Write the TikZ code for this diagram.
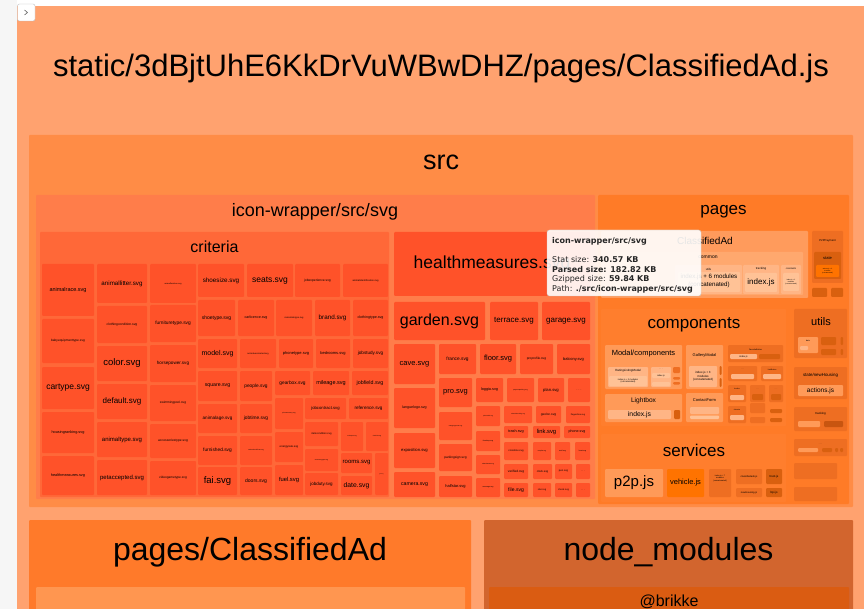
\documentclass[tikz,border=0pt]{standalone}
\usepackage{fontspec}
\setmainfont{Liberation Sans}
\newfontfamily\ttipfont{DejaVu Sans}
\definecolor{side}{HTML}{F6F6F6}
\definecolor{root}{HTML}{FFA26F}
\definecolor{srcc}{HTML}{FF8C46}
\definecolor{iw}{HTML}{FF7D4A}
\definecolor{crit}{HTML}{FF6838}
\definecolor{leaf}{HTML}{FF5229}
\definecolor{pg}{HTML}{FF7B27}
\definecolor{cad}{HTML}{FF9B5C}
\definecolor{com}{HTML}{FFA86E}
\definecolor{lt}{HTML}{FFB585}
\definecolor{ltt}{HTML}{FFC296}
\definecolor{comp}{HTML}{FF7E2D}
\definecolor{mid}{HTML}{FF9A58}
\definecolor{dk}{HTML}{D9600F}
\definecolor{dkk}{HTML}{C85510}
\definecolor{med}{HTML}{EE6E22}
\definecolor{bot}{HTML}{FF7A2A}
\definecolor{botin}{HTML}{FF9650}
\definecolor{nm}{HTML}{D2652E}
\definecolor{br}{HTML}{DA5C12}
\definecolor{veh}{HTML}{FF7300}
\newcommand\tmB[5]{\fill[#1,rounded corners=1pt] (#2,#3) rectangle (#4,#5);}
\newcommand\tmT[4]{\node[lab,font={\fontsize{#3}{#3}\selectfont}] at ({#1},{#2}) {#4};}
\newcommand\tmM[5]{\node[lab,font={\fontsize{#3}{#4}\selectfont}] at ({#1},{#2}) {#5};}
\newcommand\tmL[6]{\tmB{leaf}{#1}{#2}{#3}{#4}\tmT{(#1+#3)/2}{(#2+#4)/2}{#5}{#6}}
\newcommand\tmX[7]{\tmB{#1}{#2}{#3}{#4}{#5}\tmT{(#2+#4)/2}{(#3+#5)/2}{#6}{#7}}
\begin{document}
\begin{tikzpicture}[x=1pt,y=-1pt,lab/.style={inner sep=0pt,text=black,align=center}]
\useasboundingbox (0,0) rectangle (864,609);
\fill[white] (0,0) rectangle (864,609);
\fill[side] (0,0) rectangle (17,609);
\fill[root] (17,6) rectangle (864,609);
% toggle button
\draw[fill=white,draw=black!25,rounded corners=2pt] (17.5,4) rectangle (35,21);
\draw[black!60,line width=0.6pt] (24.5,10) -- (27.5,12.5) -- (24.5,15);
% title
\tmT{441}{68}{31}{static/3dBjtUhE6KkDrVuWBwDHZ/pages/ClassifiedAd.js}
% src
\tmB{srcc}{29}{135}{853}{507}
\tmT{441}{162}{27}{src}
% icon-wrapper
\tmB{iw}{36}{195}{595}{499}
\tmT{315}{212}{18}{icon-wrapper/src/svg}
% criteria
\tmB{crit}{40}{232}{389}{497}
\tmT{214.5}{247}{16}{criteria}
\tmL{42}{264}{94}{316}{5.5}{animalrace.svg}
\tmL{42}{319}{94}{363}{3.2}{babyequipmenttype.svg}
\tmL{42}{367}{94}{409}{8.5}{cartype.svg}
\tmL{42}{412}{94}{453}{3.8}{housingranking.svg}
\tmL{42}{456}{94}{495}{3.8}{healthmeasures.svg}
\tmL{97}{264}{147}{303}{6.2}{animallitter.svg}
\tmL{97}{306}{147}{343}{3.3}{clothingcondition.svg}
\tmL{97}{346}{147}{381}{9.5}{color.svg}
\tmL{97}{384}{147}{419}{8}{default.svg}
\tmL{97}{422}{147}{457}{6}{animaltype.svg}
\tmL{97}{460}{147}{495}{6}{petaccepted.svg}
\tmL{150}{264}{196}{303}{2}{animalfurniture.svg}
\tmL{150}{305}{196}{342}{4.8}{furnituretype.svg}
\tmL{150}{345}{196}{382}{4.6}{horsepower.svg}
\tmL{150}{385}{196}{421}{3.2}{swimmingpool.svg}
\tmL{150}{424}{196}{458}{3.3}{accessoriestype.svg}
\tmL{150}{461}{196}{495}{3.2}{videogametype.svg}
\tmL{198}{264}{244}{297}{6.3}{shoesize.svg}
\tmL{247}{264}{293}{297}{8.5}{seats.svg}
\tmL{295}{264}{340}{297}{3.3}{jobexperience.svg}
\tmL{343}{264}{388}{297}{2.5}{animalidentification.svg}
\tmL{198}{300}{235}{336}{5}{shoetype.svg}
\tmL{238}{300}{274}{336}{3.6}{carlicence.svg}
\tmL{276}{300}{312}{336}{2.3}{realestatetype.svg}
\tmL{315}{300}{350}{336}{6.3}{brand.svg}
\tmL{353}{300}{388}{336}{3.6}{clothingtype.svg}
\tmL{198}{339}{237}{368}{7}{model.svg}
\tmL{240}{339}{276}{368}{2.2}{animalvaccinated.svg}
\tmL{279}{339}{313}{368}{4}{phonetype.svg}
\tmL{316}{339}{350}{368}{4}{bedrooms.svg}
\tmL{353}{339}{388}{368}{4.6}{jobstudy.svg}
\tmL{198}{371}{237}{401}{5.2}{square.svg}
\tmL{198}{404}{237}{433}{4.6}{animalage.svg}
\tmL{198}{436}{237}{465}{4.8}{furnished.svg}
\tmL{198}{467}{237}{495}{9.5}{fai.svg}
\tmL{240}{371}{272}{401}{4.8}{people.svg}
\tmL{240}{404}{272}{433}{4.8}{jobtime.svg}
\tmL{240}{436}{272}{465}{1.6}{nationalcertificate.svg}
\tmL{240}{467}{272}{495}{5}{doors.svg}
\tmL{275}{371}{310}{395}{4.8}{gearbox.svg}
\tmL{313}{371}{349}{395}{5.5}{mileage.svg}
\tmL{352}{371}{388}{395}{5.3}{jobfield.svg}
\tmL{275}{398}{303}{429}{1.6}{phonememory.svg}
\tmL{275}{432}{303}{462}{2.8}{energyrate.svg}
\tmL{275}{465}{303}{495}{5.8}{fuel.svg}
\tmL{305}{398}{346}{419}{4.2}{jobcontract.svg}
\tmL{349}{398}{388}{419}{4.6}{reference.svg}
\tmL{305}{422}{338}{446}{2.6}{itemcondition.svg}
\tmL{341}{422}{363}{451}{1.5}{nohotpets.svg}
\tmL{366}{422}{388}{451}{1.5}{checklist.svg}
\tmL{305}{449}{338}{471}{1.6}{accessorytype.svg}
\tmL{305}{473}{338}{495}{4.5}{jobduty.svg}
\tmL{341}{453}{372}{473}{6}{rooms.svg}
\tmL{341}{476}{372}{495}{6.8}{date.svg}
\tmL{375}{453}{388}{495}{1.2}{gas.svg}
% middle column
\tmL{394}{232}{590}{296}{17.5}{healthmeasures.svg}
\tmL{394}{302}{485}{340}{16}{garden.svg}
\tmL{490}{302}{538}{340}{8}{terrace.svg}
\tmL{542}{302}{590}{340}{8}{garage.svg}
\tmL{394}{344}{435}{384}{7.5}{cave.svg}
\tmL{394}{388}{435}{428}{3.6}{languelogo.svg}
\tmL{394}{433}{435}{468}{4.2}{exposition.svg}
\tmL{394}{472}{435}{497}{5.2}{camera.svg}
\tmL{439}{344}{476}{374}{4.8}{france.svg}
\tmL{480}{344}{516}{374}{7.5}{floor.svg}
\tmL{520}{344}{553}{374}{3.2}{proprofile.svg}
\tmL{557}{344}{590}{374}{4}{balcony.svg}
\tmL{439}{378}{472}{407}{7.5}{pro.svg}
\tmL{439}{412}{472}{440}{1.6}{categorysports.svg}
\tmL{439}{444}{472}{471}{3.2}{parkingsign.svg}
\tmL{439}{476}{472}{497}{4}{halfstar.svg}
\tmL{476}{378}{503}{402}{3.8}{loggia.svg}
\tmL{507}{378}{534}{402}{1.6}{paymentparking.svg}
\tmL{538}{378}{564}{402}{4.2}{plan.svg}
\tmL{568}{378}{590}{402}{3}{. . .}
\tmL{476}{406}{500}{426}{1.5}{phonesold.svg}
\tmL{476}{431}{500}{451}{1.8}{thumbup.svg}
\tmL{476}{455}{500}{474}{1.6}{calendarnew.svg}
\tmL{476}{478}{500}{497}{1.8}{message.svg}
\tmL{504}{406}{532}{423}{1.5}{calendarbooking.svg}
\tmL{536}{406}{561}{423}{3.2}{geoloc.svg}
\tmL{566}{406}{590}{423}{2.2}{flagoutline.svg}
\tmL{504}{426}{528}{438}{3.8}{trash.svg}
\tmL{533}{426}{560}{438}{5.8}{link.svg}
\tmL{564}{426}{590}{438}{3.6}{phone.svg}
\tmL{504}{442}{528}{460}{2.6}{crossline.svg}
\tmL{533}{442}{551}{460}{1.6}{mapfav.svg}
\tmL{555}{442}{570}{460}{1.8}{mail.svg}
\tmL{575}{442}{590}{460}{1.8}{heart.svg}
\tmL{504}{464}{528}{479}{3.2}{verified.svg}
\tmL{533}{464}{552}{479}{2.8}{clock.svg}
\tmL{555}{464}{572}{479}{2.6}{pen.svg}
\tmL{576}{464}{590}{479}{2.6}{. . .}
\tmL{504}{483}{528}{497}{5}{file.svg}
\tmL{533}{483}{551}{497}{2.4}{star.svg}
\tmL{555}{483}{572}{497}{2.4}{check.svg}
\tmL{576}{483}{590}{497}{2.6}{. . .}
% pages
\tmB{pg}{598}{195}{849}{504}
\tmT{723.5}{212}{17}{pages}
\tmB{cad}{601}{231}{808}{298}
\tmT{705}{241}{10}{ClassifiedAd}
\tmB{com}{613}{252}{803}{295}
\tmT{708}{257.5}{5}{common}
\tmB{lt}{675}{265}{742}{294}
\tmT{708.5}{269}{3}{utils}
\tmB{ltt}{678}{272}{740}{292}
\tmM{709}{281}{6.2}{8}{index.js + 6 modules\\(concatenated)}
\tmB{lt}{743}{265}{779}{294}
\tmT{761}{269}{3}{tracking}
\tmX{ltt}{745}{273}{777}{292}{8}{index.js}
\tmB{lt}{781}{265}{801}{294}
\tmT{791}{269}{2.4}{constants}
\tmB{ltt}{783}{273}{799}{291}
\tmM{791}{282}{1.7}{2.2}{index.js + 1\\modules\\(concatenated)}
\tmB{med}{812}{231}{843}{283}
\tmT{827.5}{241}{2.8}{P2PPayment}
\tmB{dk}{814}{252}{841}{279}
\tmT{827.5}{258}{4}{state}
\tmB{veh}{816}{265}{839}{277}
\tmM{827.5}{271}{1.6}{2.1}{actions.js + 3\\modules\\(concatenated)}
\tmB{dk}{812}{288}{827}{297}
\tmB{dk}{831}{288}{843}{297}
% components
\tmB{comp}{601}{309}{786}{426}
\tmT{694}{325}{17}{components}
\tmB{mid}{605}{345}{682}{389}
\tmT{643.5}{354}{7.5}{Modal/components}
\tmB{lt}{608}{367}{648}{387}
\tmT{628}{371}{3}{RatingListingModal}
\tmB{ltt}{609}{376}{647}{386}
\tmM{628}{381}{2.2}{2.6}{index.js + 2 modules\\(concatenated)}
\tmB{lt}{651}{367}{671}{387}
\tmT{661}{369.5}{2}{. . .}
\tmX{ltt}{652}{373}{670}{378}{2.2}{index.js}
\tmB{ltt}{652}{382}{670}{386}
\tmB{med}{673}{367}{680}{373}
\tmB{med}{673}{377}{680}{379.5}
\tmB{med}{673}{382}{680}{384.5}
\tmB{mid}{605}{394}{682}{422}
\tmT{643.5}{401}{6.6}{Lightbox}
\tmX{lt}{608}{410}{671}{419}{6.8}{index.js}
\tmB{dk}{674}{410}{680}{419}
\tmB{mid}{686}{345}{723}{389}
\tmT{704.5}{355}{4}{GalleryModal}
\tmB{lt}{689}{366}{717}{387}
\tmM{703}{376.5}{3}{3.6}{index.js + 3\\modules\\(concatenated)}
\tmB{dk}{719.5}{366}{721.5}{375}
\tmB{dk}{719.5}{378}{721.5}{387}
\tmB{mid}{686}{393}{723}{422}
\tmT{704.5}{400}{4}{ContactForm}
\tmB{lt}{690}{407}{719}{414}
\tmB{ltt}{690}{415.5}{719}{419}
\tmB{med}{728}{345}{783}{362}
\tmT{755.5}{349.5}{2}{FavoriteButton}
\tmX{lt}{730}{354}{757}{359}{2.4}{index.js}
\tmB{dk}{759}{354}{780}{359}
\tmB{med}{728}{366}{757}{381}
\tmT{742.5}{369.5}{1.8}{. . .}
\tmB{lt}{731}{374}{754}{379}
\tmB{med}{761}{366}{783}{381}
\tmT{772}{369.5}{1.8}{LinkButton}
\tmB{lt}{763}{374}{781}{379}
\tmB{med}{728}{385}{746}{402}
\tmT{737}{389}{1.6}{SeeBox}
\tmB{lt}{730}{395}{744}{400}
\tmB{med}{750}{385}{765}{402}
\tmT{757.5}{389}{1.5}{. . .}
\tmB{dk}{752}{394}{763}{400}
\tmB{med}{769}{385}{783}{402}
\tmT{776}{389}{1.5}{. . .}
\tmB{dk}{771}{394}{781}{400}
\tmB{med}{728}{406}{746}{423}
\tmT{737}{410}{1.6}{Calendar}
\tmB{lt}{730}{415}{744}{420}
\tmB{med}{750}{403}{765}{413}
\tmB{med}{750}{417}{765}{423}
\tmB{dk}{770}{409}{782}{413}
\tmB{dk}{770}{418}{782}{422}
% utils (pages)
\tmB{med}{794}{309}{847}{358}
\tmT{821}{322}{11}{utils}
\tmB{mid}{798}{337}{818}{353}
\tmT{808}{340.5}{2}{date}
\tmB{lt}{800}{346}{808}{350}
\tmB{dk}{821}{337}{836}{345}
\tmB{dk}{821}{349}{836}{355}
\tmB{dk}{840.5}{337}{843}{345}
\tmB{dk}{840.5}{349}{843}{355}
\tmB{med}{794}{367}{847}{399}
\tmT{820.5}{375.5}{4.4}{state/newHousing}
\tmX{mid}{798}{385}{843}{396}{6.5}{actions.js}
\tmB{med}{794}{407}{847}{431}
\tmT{820.5}{414}{3}{tracking}
\tmB{mid}{798}{421}{820}{427}
\tmB{dkk}{824}{421}{843}{427}
\tmB{med}{794}{439}{847}{456}
\tmT{820.5}{444}{2}{. . .}
\tmB{mid}{798}{448}{818}{452}
\tmB{dk}{822}{448}{832}{452}
\tmB{dk}{835}{448}{838}{452}
\tmB{dk}{840}{448}{843}{452}
\tmB{med}{794}{463}{837}{479}
\tmB{med}{794}{487}{837}{501}
% services
\tmB{comp}{601}{434}{786}{502}
\tmT{694}{450}{17}{services}
\tmX{mid}{605}{469}{663}{497}{15}{p2p.js}
\tmX{veh}{667}{469}{704}{497}{7.5}{vehicle.js}
\tmB{med}{709}{469}{731}{497}
\tmM{720}{478}{2}{2.5}{index.js + 7\\modules\\(concatenated)}
\tmX{med}{736}{469}{762}{484}{2.5}{classifiedads.js}
\tmX{med}{736}{488}{762}{497}{2.5}{newHousing.js}
\tmX{dk}{766}{469}{782}{484}{3}{trust.js}
\tmX{dk}{766}{488}{782}{497}{3}{bpi.js}
% tooltip
\fill[white,opacity=0.9,rounded corners=2.5pt] (547,230) rectangle (701,296);
\draw[black!20,rounded corners=2.5pt] (547,230) rectangle (701,296);
\begin{scope}[every node/.style={inner sep=0pt,anchor=base west,text=black!85,font={\ttipfont\fontsize{8}{8}\selectfont}}]
\node at (552,244) {\textbf{icon-wrapper/src/svg}};
\node at (552,263) {Stat size: \textbf{340.57 KB}};
\node at (552,272.5) {\textbf{Parsed size: 182.82 KB}};
\node at (552,282) {Gzipped size: \textbf{59.84 KB}};
\node at (552,291.5) {Path: \textbf{./src/icon-wrapper/src/svg}};
\end{scope}
% bottom row
\tmB{bot}{29}{520}{471}{612}
\tmT{250}{552}{32}{pages/ClassifiedAd}
\tmB{botin}{36}{587}{465}{612}
\tmB{nm}{484}{520}{853}{612}
\tmT{668.5}{552}{32}{node\_modules}
\tmB{br}{489}{587}{849}{612}
\tmT{669}{602}{16}{@brikke}
\end{tikzpicture}
\end{document}
